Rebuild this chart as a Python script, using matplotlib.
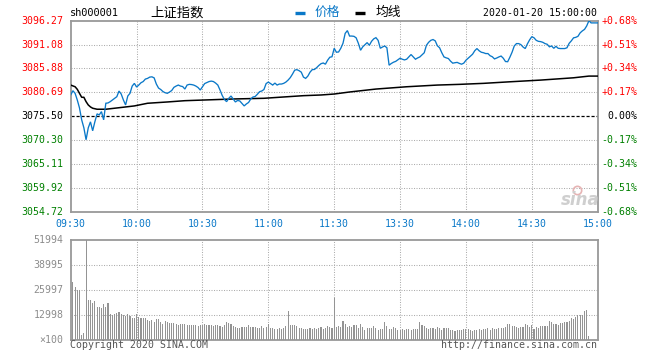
import matplotlib
matplotlib.use('Agg')
import matplotlib.pyplot as plt
import matplotlib.transforms as mtrans
from matplotlib.lines import Line2D

plt.rcParams['font.family'] = ['DejaVu Sans Mono', 'Noto Sans CJK SC']

# ---------------- data ----------------
symbol = 'sh000001'
title = '上证指数'
legend_labels = ['价格', '均线']
timestamp = '2020-01-20 15:00:00'
copyright_text = 'Copyright 2020 SINA.COM'
url_text = 'http://finance.sina.com.cn'
prev_close = 3075.50
price_ticks = [3096.27, 3091.08, 3085.88, 3080.69, 3075.50, 3070.30, 3065.11, 3059.92, 3054.72]
pct_labels = ['+0.68%', '+0.51%', '+0.34%', '+0.17%', '0.00%', '-0.17%', '-0.34%', '-0.51%', '-0.68%']
time_labels = ['09:30', '10:00', '10:30', '11:00', '11:30', '13:30', '14:00', '14:30', '15:00']
time_ticks = [0, 30, 60, 90, 120, 150, 180, 210, 240]
vol_ticks = [51994, 38995, 25997, 12998]
vol_unit = '×100'

# minute-by-minute price (241 points, 09:30 .. 11:30, 13:01 .. 15:00)
price = [
    3080.11, 3081.04, 3080.47, 3079.02, 3077.30, 3074.70, 3072.97, 3070.37, 3072.97, 3074.27,
    3072.32, 3074.27, 3076.00, 3075.78, 3076.49, 3074.70, 3078.31, 3078.38, 3078.66, 3079.02,
    3079.39, 3079.74, 3080.97, 3080.32, 3079.02, 3077.94, 3079.89, 3080.47, 3082.05, 3082.64,
    3081.84, 3082.27, 3082.77, 3083.03, 3083.57, 3083.72, 3084.00, 3084.06, 3083.83, 3082.49,
    3081.62, 3081.30, 3080.86, 3080.60, 3080.47, 3080.75, 3081.08, 3081.77, 3082.05, 3082.27,
    3082.05, 3081.94, 3081.40, 3082.27, 3082.42, 3082.38, 3082.27, 3082.05, 3081.73, 3081.19,
    3081.90, 3082.59, 3082.81, 3083.03, 3083.13, 3083.03, 3082.70, 3082.27, 3081.19, 3080.00,
    3079.13, 3078.66, 3079.39, 3079.89, 3079.24, 3078.59, 3078.92, 3078.81, 3078.27, 3077.73,
    3078.16, 3078.48, 3079.24, 3079.67, 3079.78, 3080.26, 3080.82, 3080.97, 3081.30, 3082.59,
    3082.92, 3082.59, 3082.27, 3082.70, 3082.27, 3082.49, 3082.49, 3082.64, 3082.92, 3083.35,
    3083.89, 3084.65, 3085.51, 3085.62, 3085.40, 3085.08, 3084.00, 3083.72, 3084.22, 3085.08,
    3085.62, 3085.66, 3086.05, 3086.53, 3086.92, 3087.07, 3086.81, 3087.67, 3088.32, 3088.43,
    3090.27, 3089.41, 3089.47, 3090.27, 3091.35, 3093.51, 3094.12, 3092.93, 3092.93, 3092.87,
    3092.54, 3091.35, 3089.84, 3090.59, 3091.03, 3091.50, 3090.92, 3091.78, 3092.32, 3092.58,
    3092.00, 3090.27, 3090.55, 3090.77, 3090.38, 3086.59, 3086.96, 3087.24, 3087.42, 3087.78,
    3088.11, 3087.89, 3087.74, 3087.89, 3088.39, 3088.91, 3088.39, 3087.89, 3088.17, 3088.39,
    3088.86, 3089.30, 3090.92, 3091.57, 3092.00, 3092.17, 3091.89, 3090.81, 3090.38, 3089.30,
    3088.39, 3088.19, 3088.04, 3087.46, 3087.03, 3087.13, 3087.20, 3086.98, 3086.81, 3087.03,
    3087.67, 3088.11, 3088.54, 3088.97, 3089.73, 3090.21, 3089.73, 3089.41, 3089.30, 3089.12,
    3089.12, 3088.65, 3088.43, 3087.96, 3088.15, 3088.39, 3088.58, 3088.11, 3087.39, 3087.35,
    3088.32, 3089.41, 3090.77, 3091.29, 3091.29, 3091.07, 3090.55, 3090.21, 3091.24, 3092.11,
    3092.80, 3092.55, 3092.00, 3091.78, 3091.72, 3091.57, 3091.29, 3091.14, 3090.59, 3090.77,
    3090.27, 3090.70, 3090.27, 3090.21, 3090.21, 3090.21, 3090.38, 3091.35, 3091.89, 3092.54,
    3092.65, 3092.87, 3093.62, 3094.05, 3094.38, 3095.14, 3096.27, 3095.79, 3095.79, 3095.79,
    3095.79,
]

# average-price line, sampled at the minutes where it bends
avg_minutes = [0, 2, 3, 4, 5, 6, 7, 8, 9, 10, 12, 16, 20, 24, 29, 35, 44, 52, 61, 74,
               88, 99, 106, 114, 120, 127, 139, 153, 167, 177, 188, 200, 214, 229, 236, 240]
avg_price = [3082.27, 3081.90, 3081.34, 3080.47, 3079.61, 3079.61, 3078.66, 3077.94, 3077.51, 3077.23,
             3077.01, 3077.01, 3077.23, 3077.45, 3077.73, 3078.31, 3078.59, 3078.87, 3079.02, 3079.24,
             3079.39, 3079.74, 3079.96, 3080.11, 3080.32, 3080.76, 3081.40, 3081.90, 3082.27, 3082.42,
             3082.64, 3082.98, 3083.35, 3083.85, 3084.22, 3084.22]

# minute volume (units of 100 lots), 241 bars
volume = [
    51994, 30330, 27730, 26000, 26000, 2770, 3810, 51994, 20970, 20970,
    19410, 20450, 17330, 17330, 16810, 18890, 17330, 19410, 13690, 13170,
    13690, 14210, 14730, 13690, 13170, 12650, 13690, 12650, 11610, 11610,
    13690, 12130, 11610, 11610, 11610, 10570, 10050, 10570, 9530, 11090,
    11090, 9530, 8490, 10050, 9530, 9010, 9010, 9010, 8490, 7970,
    8490, 8490, 8490, 7970, 7970, 7970, 7970, 7970, 7450, 7970,
    7970, 8490, 7970, 7970, 7970, 7450, 7970, 7970, 7450, 6930,
    7970, 9530, 9010, 8490, 7450, 6930, 6410, 6410, 6930, 6930,
    6930, 7970, 6930, 6930, 6930, 6410, 6410, 7450, 6410, 6930,
    8490, 6410, 6410, 5890, 5890, 6410, 5890, 6410, 7450, 15250,
    7970, 7970, 7970, 7450, 6410, 6410, 5890, 5890, 5890, 6410,
    5890, 6410, 5890, 6410, 6930, 5890, 6410, 7450, 6930, 6410,
    22010,
    6930, 7450, 6930, 10050, 8490, 6930, 7450, 6930, 7970, 7970,
    6410, 8490, 6930, 5370, 6410, 6410, 6410, 7450, 6410, 5370,
    5890, 5890, 9530, 7450, 5890, 5890, 6930, 6410, 5370, 5370,
    5890, 5370, 5890, 5890, 5370, 5890, 5890, 5890, 9530, 7970,
    7450, 6410, 5890, 6410, 6410, 5890, 6930, 6410, 5370, 6410,
    6410, 6410, 5370, 5370, 4850, 5370, 5370, 5370, 5890, 5890,
    5890, 5370, 4850, 5370, 5370, 5890, 5370, 5890, 5890, 6410,
    5370, 6410, 5890, 5890, 6410, 6410, 6410, 6930, 8490, 8490,
    7450, 7450, 6930, 6410, 6930, 6930, 8490, 7970, 6930, 7970,
    5890, 6930, 6410, 7450, 7450, 7450, 7450, 10050, 9530, 8490,
    8490, 7970, 9010, 9010, 9530, 9530, 10050, 11610, 11090, 12130,
    13170, 13170, 13170, 15250, 15770, 2250, 0, 0, 0, 0,
]

# ---------------- layout (pixels) ----------------
W, H = 660, 360
L, R = 70.7, 597.7
P_TOP, P_BOT = 20.7, 211.7
V_TOP, V_BOT = 240.3, 340.3

BLUE = '#0a78c8'
RED = '#ff0000'
GREEN = '#008000'
FRAME = '#999999'
GRID = '#adadad'
MONO = 7.1

fig = plt.figure(figsize=(W / 100, H / 100), dpi=100)
fig.patch.set_facecolor('white')


def fx(px):
    return px / W


def fy(py):
    return 1 - py / H


ax = fig.add_axes([fx(L), fy(P_BOT), (R - L) / W, (P_BOT - P_TOP) / H])
vax = fig.add_axes([fx(L), fy(V_BOT), (R - L) / W, (V_BOT - V_TOP) / H])

for a in (ax, vax):
    a.set_xlim(0, 240)
    a.set_xticks([])
    a.set_yticks([])
    for s in a.spines.values():
        s.set_color(FRAME)
        s.set_linewidth(1.3)
    a.set_facecolor('white')

ax.set_ylim(price_ticks[-1], price_ticks[0])
vax.set_ylim(0, vol_ticks[0])

grid_kw = dict(color=GRID, linewidth=0.75, linestyle=(0, (1, 1.4)), zorder=1)
for t in time_ticks[1:-1]:
    ax.axvline(t, **grid_kw)
    vax.axvline(t, **grid_kw)
for p in price_ticks[1:-1]:
    if abs(p - prev_close) < 1e-6:
        ax.axhline(p, color='black', linewidth=0.9, linestyle=(0, (2.5, 1.5)), zorder=2)
    else:
        ax.axhline(p, **grid_kw)
for v in vol_ticks[1:]:
    vax.axhline(v, **grid_kw)

# lines
ax.plot(range(len(price)), price, color=BLUE, linewidth=0.95, zorder=4, solid_joinstyle='miter')
ax.plot(avg_minutes, avg_price, color='black', linewidth=1.1, zorder=3)

# volume bars
vax.bar(range(len(volume)), volume, width=0.5, color='#949494', linewidth=0,
        antialiased=False, zorder=3)

# price labels
trL = mtrans.blended_transform_factory(ax.transAxes, ax.transData)
left_x = (63.6 - L) / (R - L)
right_x = (637.3 - L) / (R - L)
for p, pct in zip(price_ticks, pct_labels):
    if p > prev_close + 1e-6:
        c = RED
    elif p < prev_close - 1e-6:
        c = GREEN
    else:
        c = 'black'
    ax.text(left_x, p, f'{p:.2f}', transform=trL, ha='right', va='center',
            fontsize=MONO, color=c, family='DejaVu Sans Mono')
    ax.text(right_x, p, pct, transform=trL, ha='right', va='center',
            fontsize=MONO, color=c, family='DejaVu Sans Mono')

# time labels
trT = mtrans.blended_transform_factory(ax.transData, ax.transAxes)
ty = -(223.7 - P_BOT) / (P_BOT - P_TOP)
for t, lab in zip(time_ticks, time_labels):
    ax.text(t, ty, lab, transform=trT, ha='center', va='center',
            fontsize=MONO, color=BLUE, family='DejaVu Sans Mono')

# volume labels
trV = mtrans.blended_transform_factory(vax.transAxes, vax.transData)
for v in vol_ticks:
    vax.text(left_x, v, str(v), transform=trV, ha='right', va='center',
             fontsize=MONO, color='#8c8c8c', family='DejaVu Sans Mono')
vax.text(left_x, 0, vol_unit, transform=trV, ha='right', va='center',
         fontsize=MONO, color='#8c8c8c', family='DejaVu Sans Mono')

# header
fig.text(fx(70), fy(13), symbol, ha='left', va='center', fontsize=MONO + 0.3,
         color='black', family='DejaVu Sans Mono')
fig.text(fx(150), fy(12.5), title, ha='left', va='center', fontsize=9.6,
         color='black', family=['Noto Sans CJK SC', 'DejaVu Sans'])
fig.add_artist(Line2D([fx(295), fx(305)], [fy(12.8), fy(12.8)], color=BLUE,
                      linewidth=2.4, solid_capstyle='butt'))
fig.text(fx(315), fy(12.5), legend_labels[0], ha='left', va='center', fontsize=9.2,
         color=BLUE, family=['Noto Sans CJK SC', 'DejaVu Sans'])
fig.add_artist(Line2D([fx(355), fx(365)], [fy(12.8), fy(12.8)], color='black',
                      linewidth=2.4, solid_capstyle='butt'))
fig.text(fx(376), fy(12.5), legend_labels[1], ha='left', va='center', fontsize=9.2,
         color='black', family=['Noto Sans CJK SC', 'DejaVu Sans'])
fig.text(fx(597), fy(13), timestamp, ha='right', va='center', fontsize=MONO,
         color='black', family='DejaVu Sans Mono')

# footer
fig.text(fx(70), fy(345.5), copyright_text, ha='left', va='center', fontsize=MONO,
         color='#555555', family='DejaVu Sans Mono')
fig.text(fx(597), fy(345.5), url_text, ha='right', va='center', fontsize=MONO,
         color='#555555', family='DejaVu Sans Mono')

# sina watermark
fig.text(fx(580), fy(200), 'sina', ha='center', va='center', fontsize=12,
         color='#cfcfcf', style='italic', weight='bold', family='DejaVu Sans')
fig.add_artist(Line2D([fx(577)], [fy(189.5)], marker='o', markersize=6,
                      markerfacecolor='none', markeredgecolor='#e6b4b4', markeredgewidth=1.2))

fig.savefig('out.png', dpi=100, facecolor='white')
